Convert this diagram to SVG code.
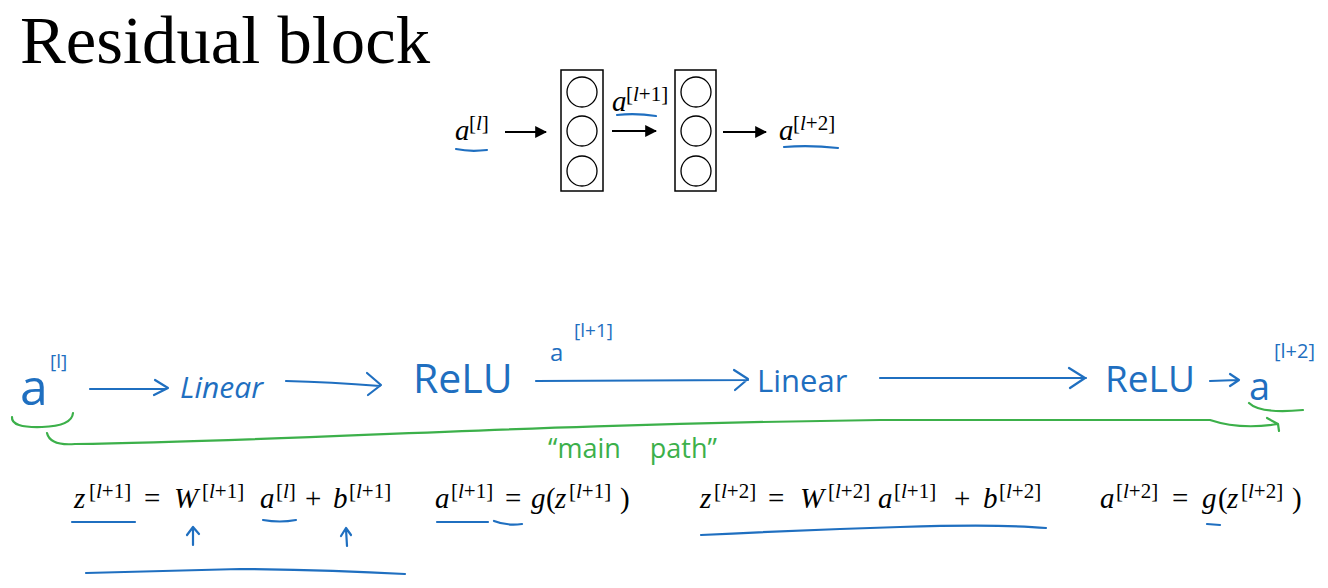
<svg xmlns="http://www.w3.org/2000/svg" width="1328" height="588" viewBox="0 0 1328 588">
<defs>
<style>
.title{font-family:"Liberation Serif",serif;font-size:68px;fill:#000}
.m{font-family:"Liberation Serif",serif;font-size:29px;fill:#000}
.v{font-family:"Liberation Serif",serif;font-size:29px;font-style:italic;fill:#000}
.sp{font-family:"Liberation Serif",serif;font-size:21px;fill:#000}
.i{font-style:italic}
.box{fill:#fff;stroke:#000;stroke-width:1.5}
.nc{fill:#fff;stroke:#000;stroke-width:1.3}
.blk{stroke:#000;stroke-width:2;fill:none}
.bl{stroke:#1f6fc0;stroke-width:2.2;fill:none;stroke-linecap:round;stroke-linejoin:round}
.gr{stroke:#3cb04a;stroke-width:2.2;fill:none;stroke-linecap:round;stroke-linejoin:round}
.hw{font-family:"Open Sans","DejaVu Sans",sans-serif;fill:#1f6fc0}
.hg{font-family:"Open Sans","DejaVu Sans",sans-serif;fill:#3cb04a}
</style>
<marker id="ah" viewBox="0 0 10 10" refX="9" refY="5" markerWidth="6" markerHeight="6" orient="auto"><path d="M0,0 L10,5 L0,10 z" fill="#000"/></marker>
</defs>
<rect width="1328" height="588" fill="#fff"/>
<text class="title" x="20" y="63" textLength="410" lengthAdjust="spacingAndGlyphs">Residual block</text>

<g id="connectors">
<line class="blk" x1="505" y1="132" x2="546" y2="132" marker-end="url(#ah)"/>
<line class="blk" x1="612" y1="131" x2="656" y2="131" marker-end="url(#ah)"/>
<line class="blk" x1="723" y1="132" x2="766" y2="132" marker-end="url(#ah)"/>
</g>

<g id="layer1">
<rect class="box" x="561" y="70" width="42" height="121"/>
<circle class="nc" cx="582" cy="92" r="15"/>
<circle class="nc" cx="582" cy="131" r="15"/>
<circle class="nc" cx="582" cy="171" r="15"/>
</g>
<g id="layer2">
<rect class="box" x="675" y="70" width="41" height="121"/>
<circle class="nc" cx="696" cy="92" r="15"/>
<circle class="nc" cx="696" cy="131" r="15"/>
<circle class="nc" cx="696" cy="171" r="15"/>
</g>

<g id="top-labels">
<text class="v" x="455" y="140" font-size="26">a</text>
<text class="sp" x="469" y="130" font-size="17">[<tspan class="i">l</tspan>]</text>
<path class="bl" d="M456,149 Q470,152 487,150"/>
<text class="v" x="612" y="111" font-size="26">a</text>
<text class="sp" x="626" y="101" font-size="17">[<tspan class="i">l</tspan>+1]</text>
<path class="bl" d="M617,115 Q636,113 656,116"/>
<text class="v" x="779" y="140" font-size="26">a</text>
<text class="sp" x="793" y="130" font-size="17">[<tspan class="i">l</tspan>+2]</text>
<path class="bl" d="M784,147 Q810,145 838,148"/>
</g>

<g id="handwritten">
<text class="hw" x="20" y="405" font-size="50">a</text>
<text class="hw" x="50" y="368" font-size="19">[l]</text>
<path class="bl" d="M90,389 L166,389 M155,380 L168,388 L154,395"/>
<text class="hw" x="180" y="398" font-size="30" font-style="italic">Linear</text>
<path class="bl" d="M286,381 Q330,382 380,386 M367,373 L381,385 L368,395"/>
<text class="hw" x="413" y="393" font-size="41">ReLU</text>
<text class="hw" x="550" y="361" font-size="24">a</text>
<text class="hw" x="574" y="337" font-size="19">[l+1]</text>
<path class="bl" d="M536,381 L748,380 M734,370 L748,379 L735,390"/>
<text class="hw" x="757" y="392" font-size="31">Linear</text>
<path class="bl" d="M880,378 L1086,378 M1069,368 L1085,378 L1070,388"/>
<text class="hw" x="1105" y="392" font-size="37">ReLU</text>
<path class="bl" d="M1210,381 L1238,380 M1230,374 L1239,380 L1230,386"/>
<text class="hw" x="1249" y="400" font-size="38">a</text>
<text class="hw" x="1274" y="358" font-size="20">[l+2]</text>
</g>

<g id="skip-path">
<path class="gr" d="M12,417 Q11,428 42,427 Q72,426 73,413"/>
<path class="gr" d="M47,433 Q50,446 75,444 C300,441 500,425 880,420 L1210,420 Q1240,430 1278,424 M1267,418 L1278,424 L1279,431"/>
<path class="gr" d="M1249,403 Q1260,414 1303,410"/>
<text class="hg" x="548" y="458" font-size="27" word-spacing="22">“main path”</text>
</g>

<g id="equations">
<g id="eq1">
<text class="v" x="74" y="508">z</text><text class="sp" x="89" y="498">[<tspan class="i">l</tspan>+1]</text>
<text class="m" x="144" y="508">=</text>
<text class="v" x="174" y="508">W</text><text class="sp" x="202" y="498">[<tspan class="i">l</tspan>+1]</text>
<text class="v" x="260" y="508">a</text><text class="sp" x="276" y="498">[<tspan class="i">l</tspan>]</text>
<text class="m" x="305" y="508">+</text>
<text class="v" x="333" y="508">b</text><text class="sp" x="349" y="498">[<tspan class="i">l</tspan>+1]</text>
</g>
<g id="eq2">
<text class="v" x="435" y="508">a</text><text class="sp" x="451" y="498">[<tspan class="i">l</tspan>+1]</text>
<text class="m" x="505" y="508">=</text>
<text class="v" x="531" y="508">g</text><text class="m" x="546" y="508">(</text>
<text class="v" x="555" y="508">z</text><text class="sp" x="569" y="498">[<tspan class="i">l</tspan>+1]</text>
<text class="m" x="620" y="508">)</text>
</g>
<g id="eq3">
<text class="v" x="700" y="508">z</text><text class="sp" x="714" y="498">[<tspan class="i">l</tspan>+2]</text>
<text class="m" x="768" y="508">=</text>
<text class="v" x="800" y="508">W</text><text class="sp" x="828" y="498">[<tspan class="i">l</tspan>+2]</text>
<text class="v" x="878" y="508">a</text><text class="sp" x="894" y="498">[<tspan class="i">l</tspan>+1]</text>
<text class="m" x="954" y="508">+</text>
<text class="v" x="983" y="508">b</text><text class="sp" x="999" y="498">[<tspan class="i">l</tspan>+2]</text>
</g>
<g id="eq4">
<text class="v" x="1100" y="508">a</text><text class="sp" x="1116" y="498">[<tspan class="i">l</tspan>+2]</text>
<text class="m" x="1172" y="508">=</text>
<text class="v" x="1202" y="508">g</text><text class="m" x="1218" y="508">(</text>
<text class="v" x="1227" y="508">z</text><text class="sp" x="1241" y="498">[<tspan class="i">l</tspan>+2]</text>
<text class="m" x="1292" y="508">)</text>
</g>
</g>

<g id="annotations">
<path class="bl" d="M72,522 L135,522"/>
<path class="bl" d="M263,520 Q280,523 296,520"/>
<path class="bl" d="M193,545 L193,528 M187,535 L193,527 L199,534"/>
<path class="bl" d="M347,546 L346,529 M341,536 L346,528 L351,535"/>
<path class="bl" d="M86,573 Q150,571 240,569 Q330,570 405,574"/>
<path class="bl" d="M437,522 L488,522"/>
<path class="bl" d="M494,521 Q506,526 522,524"/>
<path class="bl" d="M701,535 Q800,530 900,527 Q1000,524 1046,528"/>
<path class="bl" d="M1207,524 L1220,525"/>
</g>
</svg>
